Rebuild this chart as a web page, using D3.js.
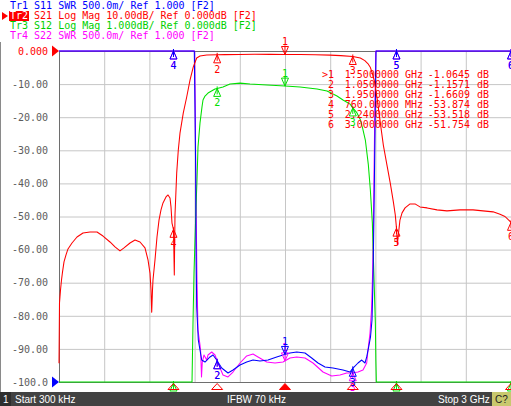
<!DOCTYPE html>
<html><head><meta charset="utf-8">
<script src="https://cdn.jsdelivr.net/npm/d3@7"></script>
<style>
html,body{margin:0;padding:0;background:#fff;overflow:hidden}
svg{display:block}
text{font-family:"DejaVu Sans Mono",monospace;font-size:10px}
</style></head><body>
<svg id="c" width="511" height="406"></svg>
<script>
// ---------- data ----------
const freqRange = [0.0003, 3.0];           // GHz, start / stop
const yTicks = [0,-10,-20,-30,-40,-50,-60,-70,-80,-90,-100];
const yTickLabels = ["0.000","-10.00","-20.00","-30.00","-40.00","-50.00","-60.00","-70.00","-80.00","-90.00","-100.0"];
const headerLines = [
  {tr:"Tr1", rest:" S11 SWR 500.0m/ Ref 1.000 [F2]", color:"#0000ff"},
  {tr:"Tr2", rest:" S21 Log Mag 10.00dB/ Ref 0.000dB [F2]", color:"#ff0000"},
  {tr:"Tr3", rest:" S12 Log Mag 1.000dB/ Ref 0.000dB [F2]", color:"#00d000"},
  {tr:"Tr4", rest:" S22 SWR 500.0m/ Ref 1.000 [F2]", color:"#ff00ff"}
];
const markerNums  = ["1","2","3","4","5","6"];
const markerFreqs = [1.5, 1.05, 1.95, 0.76, 2.24, 3.0];
const markerTable = [
  [">1","1.5000000","GHz","-1.0645"],
  ["2","1.0500000","GHz","-1.1571"],
  ["3","1.9500000","GHz","-1.6609"],
  ["4","760.00000","MHz","-53.874"],
  ["5","2.2400000","GHz","-53.518"],
  ["6","3.0000000","GHz","-51.754"]
];
const statusTexts = ["Start 300 kHz","IFBW 70 kHz","Stop 3 GHz"];

// S21, dB  [GHz, dB]
const s21 = [[0.0003,-94.3],[0.0036,-76.1],[0.0103,-72.2],[0.0169,-69.2],[0.0235,-66.8],[0.0335,-63.7],[0.0468,-61.6],[0.060,-59.8],[0.0866,-58.0],[0.1198,-56.2],[0.1596,-55.0],[0.206,-54.7],[0.2525,-54.7],[0.2923,-55.9],[0.3388,-57.7],[0.3719,-59.2],[0.4051,-60.4],[0.4317,-59.5],[0.4715,-58.0],[0.5047,-57.1],[0.5379,-57.7],[0.571,-59.5],[0.591,-63.1],[0.6042,-67.1],[0.6109,-72.2],[0.6155,-78.9],[0.6208,-72.2],[0.6241,-69.2],[0.6374,-63.1],[0.6507,-56.2],[0.664,-51.1],[0.6772,-48.0],[0.6905,-45.9],[0.7104,-44.1],[0.7237,-43.5],[0.737,-44.4],[0.7436,-47.1],[0.7502,-52.0],[0.76,-53.874],[0.7655,-67.7],[0.7701,-49.5],[0.7814,-36.9],[0.792,-29.9],[0.8033,-24.8],[0.8252,-18.7],[0.8478,-13.9],[0.8697,-8.8],[0.8916,-4.8],[0.9141,-2.1],[0.936,-1.5],[0.9805,-1.2],[1.05,-1.1571],[1.10,-1.10],[1.20,-1.05],[1.30,-1.00],[1.40,-1.02],[1.50,-1.0645],[1.60,-1.08],[1.70,-1.12],[1.80,-1.25],[1.87,-1.40],[1.95,-1.6609],[2.00,-2.1],[2.03,-2.9],[2.05,-3.8],[2.067,-5.0],[2.08,-6.8],[2.093,-9.0],[2.113,-14.8],[2.133,-21.8],[2.153,-28.5],[2.179,-35],[2.199,-40],[2.219,-45.5],[2.232,-49.5],[2.24,-53.518],[2.246,-58.5],[2.25,-56.5],[2.263,-51.1],[2.277,-48.9],[2.297,-47.4],[2.33,-46.2],[2.363,-46.2],[2.396,-47.1],[2.443,-47.4],[2.509,-48.0],[2.575,-48.3],[2.662,-48.0],[2.748,-48.0],[2.814,-48.3],[2.881,-48.6],[2.927,-49.3],[2.96,-50.0],[2.98,-50.9],[3.0,-51.754]];

// S12, dB (values below -10 are off the bottom of the 1 dB/div scale)
const s12 = [[0.0003,-12],[0.883,-12],[0.8863,-9.12],[0.8896,-8.22],[0.8963,-6.71],[0.9029,-5.71],[0.9095,-4.71],[0.9161,-3.90],[0.9228,-2.90],[0.936,-2.18],[0.9493,-1.69],[0.956,-1.48],[0.9693,-1.36],[0.9892,-1.27],[1.0356,-1.15],[1.05,-1.13],[1.0887,-1.09],[1.1352,-1.0],[1.2016,-0.97],[1.2679,-1.0],[1.3808,-1.03],[1.5,-1.06],[1.5997,-1.09],[1.7125,-1.15],[1.779,-1.21],[1.8452,-1.36],[1.885,-1.48],[1.9315,-1.60],[1.95,-1.72],[1.978,-1.87],[2.0004,-2.08],[2.0136,-2.30],[2.0334,-2.69],[2.0533,-3.44],[2.0666,-4.20],[2.0799,-5.20],[2.0865,-6.22],[2.0932,-7.22],[2.0998,-8.22],[2.1031,-9.34],[2.1064,-12],[3.0,-12]];

// S11, SWR (values above 6 are off the top of the scale)
const s11 = [[0.0003,7],[0.8982,7],[0.9029,5.154],[0.9075,4.157],[0.9095,3.145],[0.9141,2.133],[0.9248,1.634],[0.936,1.483],[0.9473,1.332],[0.9693,1.302],[1.0024,1.378],[1.0223,1.408],[1.0469,1.332],[1.08,1.211],[1.1219,1.136],[1.1551,1.181],[1.2016,1.257],[1.246,1.302],[1.2878,1.332],[1.3343,1.317],[1.3874,1.332],[1.4451,1.378],[1.4869,1.408],[1.5334,1.438],[1.5778,1.453],[1.6329,1.438],[1.6773,1.363],[1.7191,1.287],[1.7656,1.227],[1.8187,1.211],[1.885,1.181],[1.9315,1.151],[1.9514,1.211],[1.9846,1.287],[2.0092,1.332],[2.0311,1.287],[2.0424,1.378],[2.0543,1.514],[2.0676,1.680],[2.0776,1.937],[2.0842,2.541],[2.0909,3.598],[2.0975,4.807],[2.1042,7],[3.0,7]];

// S22, SWR
const s22 = [[0.0003,7],[0.9002,7],[0.9049,4.958],[0.9095,3.749],[0.9161,2.541],[0.9228,1.786],[0.936,1.559],[0.9406,1.453],[0.946,1.076],[0.9513,1.302],[0.9626,1.408],[0.9805,1.332],[0.9892,1.408],[1.0138,1.453],[1.0356,1.408],[1.0555,1.287],[1.0887,1.106],[1.1219,1.076],[1.1551,1.151],[1.2016,1.287],[1.246,1.393],[1.2878,1.423],[1.321,1.378],[1.3787,1.302],[1.4338,1.287],[1.4869,1.302],[1.5334,1.363],[1.5778,1.378],[1.6329,1.363],[1.686,1.287],[1.7524,1.151],[1.8101,1.091],[1.8651,1.106],[1.9096,1.136],[1.9428,1.136],[1.9846,1.151],[2.0178,1.181],[2.0424,1.287],[2.051,1.483],[2.0643,1.740],[2.0743,2.088],[2.0822,2.692],[2.0889,3.749],[2.0955,4.958],[2.1028,7],[3.0,7]];

// ---------- layout ----------
const X0=59, X1=511, Y0=51, Y1=382;
const svg = d3.select("#c");
const x = d3.scaleLinear().domain(freqRange).range([X0,X1]);
const yDb10 = d3.scaleLinear().domain([-100,0]).range([Y1,Y0]);
const yDb1  = d3.scaleLinear().domain([-10,0]).range([Y1,Y0]);
const ySwr  = d3.scaleLinear().domain([1,6]).range([Y1,Y0]);
const clampY = v => Math.max(Y0, Math.min(Y1, v));

// left border line
svg.append("line").attr("x1",0.5).attr("x2",0.5).attr("y1",42).attr("y2",392).attr("stroke","#8a8a8a");

// grid
const xGrid = d3.range(1,10).map(k => freqRange[0] + k*(freqRange[1]-freqRange[0])/10);
svg.append("g").attr("transform",`translate(0,${Y1})`)
  .call(d3.axisBottom(x).tickValues(xGrid).tickSize(-(Y1-Y0)).tickFormat(""))
  .call(g=>{g.select(".domain").remove(); g.selectAll("line").attr("stroke","#c6c6c6");});
svg.append("g").attr("transform",`translate(${X0},0)`)
  .call(d3.axisLeft(yDb10).tickValues(yTicks.slice(1,10)).tickSize(-(X1-X0)).tickFormat(""))
  .call(g=>{g.select(".domain").remove(); g.selectAll("line").attr("stroke","#c6c6c6");});
// frame
svg.append("line").attr("x1",X0+0.5).attr("x2",X0+0.5).attr("y1",Y0).attr("y2",Y1+1).attr("stroke","#6e6e6e");
svg.append("line").attr("x1",X0).attr("x2",X1).attr("y1",Y1+0.5).attr("y2",Y1+0.5).attr("stroke","#6e6e6e");
svg.append("line").attr("x1",X0).attr("x2",X1).attr("y1",Y0+0.5).attr("y2",Y0+0.5).attr("stroke","#6e6e6e");

// y labels
svg.append("g").attr("transform",`translate(${X0},0)`)
  .call(d3.axisLeft(yDb10).tickValues(yTicks).tickFormat((d,i)=>yTickLabels[i]).tickSize(0).tickPadding(11))
  .call(g=>{g.select(".domain").remove();
    g.selectAll("text").attr("fill",(d,i)=>i===0?"#ff0000":"#5c5c5c")
      .style("font-family","'DejaVu Sans Mono',monospace").style("font-size","10px");});

// reference triangles
svg.append("path").attr("d",`M${X0-7},${Y0-5.5}L${X0},${Y0}L${X0-7},${Y0+5.5}Z`).attr("fill","#ff0000");
svg.append("path").attr("d",`M${X0-7},${Y1-5.5}L${X0},${Y1}L${X0-7},${Y1+5.5}Z`).attr("fill","#0000ff");

// traces
const traces = [
  {data:s22, y:ySwr,  color:"#ff00ff"},
  {data:s12, y:yDb1,  color:"#00e000"},
  {data:s11, y:ySwr,  color:"#0000ff"},
  {data:s21, y:yDb10, color:"#ff0000", active:true}
];
function valueAt(data,f){
  const i = Math.max(1, Math.min(data.length-1, d3.bisector(d=>d[0]).left(data,f)));
  const a=data[i-1], b=data[i];
  const t = (f-a[0])/(b[0]-a[0]);
  return a[1] + t*(b[1]-a[1]);
}
const gTr = svg.append("g");
traces.forEach(tr=>{
  const line = d3.line().x(d=>x(d[0])).y(d=>clampY(tr.y(d[1])));
  gTr.append("path").attr("d",line(tr.data)).attr("fill","none")
    .attr("stroke",tr.color).attr("stroke-width",1.05).attr("stroke-linejoin","round");
});

// markers
const gM = svg.append("g");
traces.forEach(tr=>{
  markerFreqs.forEach((f,i)=>{
    const mx = x(f);
    let my = tr.y(valueAt(tr.data,f));
    const below = my > Y1;
    my = clampY(my);
    if (below) my = Y1+1;
    const g = gM.append("g").attr("stroke",tr.color).attr("fill","none").attr("stroke-width",1);
    if (i===0 && !below) {
      g.append("path").attr("d",`M${mx-3.5},${my-8}L${mx+3.5},${my-8}L${mx},${my}Z M${mx},${my-9}V${my}`);
      gM.append("text").attr("x",mx).attr("y",my-9.5).attr("text-anchor","middle").attr("fill",tr.color).text(markerNums[i]);
    } else {
      g.append("path").attr("d",`M${mx},${my}L${mx-3.5},${my+8}L${mx+3.5},${my+8}Z M${mx},${my-2}V${my+6}`);
      gM.append("text").attr("x",mx).attr("y",my+18).attr("text-anchor","middle").attr("fill",tr.color).text(markerNums[i]);
    }
  });
});
// active-trace stimulus indicators along the bottom
markerFreqs.forEach((f,i)=>{
  const mx = x(f);
  svg.append("path").attr("d",`M${mx},${Y1+1.5}L${mx-5.5},${Y1+7.5}L${mx+5.5},${Y1+7.5}Z`)
    .attr("stroke","#ff0000").attr("fill",i===0?"#ff0000":"none").attr("stroke-width",1);
});

// marker table
const gT = svg.append("g").attr("fill","#ff0000");
markerTable.forEach((r,i)=>{
  const yy = 78 + i*10;
  gT.append("text").attr("x",334).attr("y",yy).attr("text-anchor","end").text(r[0]);
  gT.append("text").attr("x",399).attr("y",yy).attr("text-anchor","end").text(r[1]);
  gT.append("text").attr("x",405).attr("y",yy).text(r[2]);
  gT.append("text").attr("x",470).attr("y",yy).attr("text-anchor","end").text(r[3]);
  gT.append("text").attr("x",477).attr("y",yy).text("dB");
});

// header
svg.append("rect").attr("x",0).attr("y",0).attr("width",511).attr("height",42).attr("fill","#fff").lower();
headerLines.forEach((h,i)=>{
  const yy = 9 + i*10;
  if (i===1){
    svg.append("rect").attr("x",9).attr("y",yy-8).attr("width",20).attr("height",10).attr("fill","#ff0000");
    svg.append("path").attr("d",`M2,${yy-7}L8,${yy-3}L2,${yy+1}Z`).attr("fill","#ff0000");
  }
  const t = svg.append("text").attr("x",10).attr("y",yy).attr("fill",h.color);
  t.append("tspan").attr("fill", i===1?"#ffffff":h.color).text(h.tr);
  t.append("tspan").text(h.rest);
});

// status bar
const sb = svg.append("g").attr("transform","translate(0,392)");
sb.append("rect").attr("width",511).attr("height",14).attr("fill","#424242");
sb.append("rect").attr("x",0).attr("width",11).attr("height",14).attr("fill","#2e2e2e");
sb.append("rect").attr("x",492).attr("width",19).attr("height",14).attr("fill","#c8c86e");
const sf = "font-family:'Liberation Sans',Arial,sans-serif;font-size:10px";
sb.append("text").attr("x",3).attr("y",11).attr("fill","#ffffff").attr("style",sf).text("1");
sb.append("text").attr("x",15).attr("y",11).attr("fill","#ffffff").attr("style",sf).text(statusTexts[0]);
sb.append("text").attr("x",227).attr("y",11).attr("fill","#ffffff").attr("style",sf).text(statusTexts[1]);
sb.append("text").attr("x",438).attr("y",11).attr("fill","#ffffff").attr("style",sf).text(statusTexts[2]);
sb.append("text").attr("x",495).attr("y",11).attr("fill","#202020").attr("style",sf).text("C?");
</script>
</body></html>
